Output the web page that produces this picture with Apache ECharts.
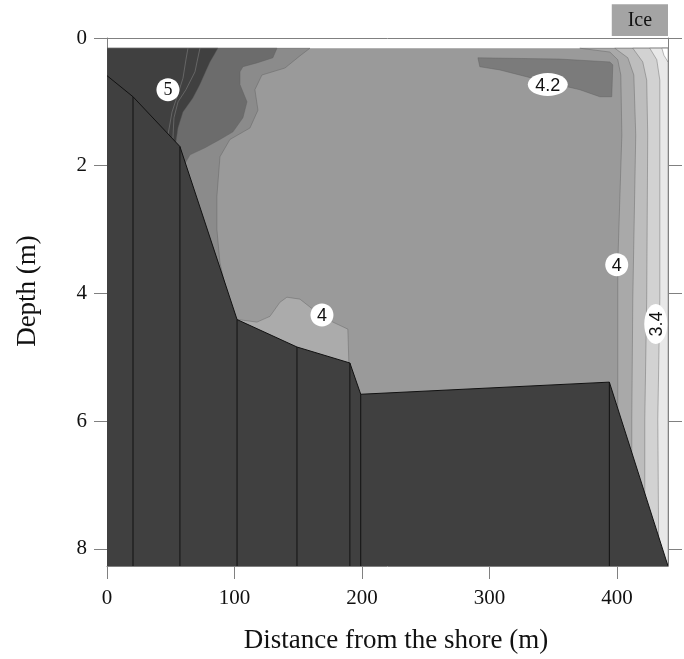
<!DOCTYPE html>
<html><head><meta charset="utf-8">
<script src="https://cdn.jsdelivr.net/npm/echarts@6/dist/echarts.min.js"></script>
<style>html,body{margin:0;padding:0;background:#fff}#c{width:684px;height:659px}</style>
</head><body><div id="c"></div>
<script>
// ---- data (distance from shore in m, depth in m) ----
var xTicks = [0, 100, 200, 300, 400];
var yTicks = [0, 2, 4, 6, 8];
var xMax = 440, yMax = 8.27, iceDepth = 0.16;

var waterArea = [[0,0.16],[440,0.16],[440,8.27],[0,8.27]];
// left warm bands
var bandL3 = [[0,0.16],[159.2,0.16],[151.3,0.28],[139.6,0.47],[121.5,0.58],[116.0,0.81],[118.4,1.13],[112.1,1.41],[96.4,1.59],[88.6,1.86],[86.2,2.48],[86.2,3.0],[88.6,3.52],[92.5,3.86],[98.0,4.25],[102.7,4.6],[0,4.6]];
var bandM2 = [[0,0.16],[133.3,0.16],[130.1,0.31],[117.6,0.39],[106.6,0.45],[104.3,0.53],[104.3,0.73],[109.8,1.0],[106.6,1.25],[98.8,1.47],[88.6,1.59],[76.8,1.72],[65.1,1.83],[57.2,2.1],[0,2.1]];
var bandD1 = [[0,0.16],[87.0,0.16],[83.9,0.27],[80.8,0.375],[76.9,0.55],[72.9,0.73],[67.4,0.94],[59.6,1.16],[55.7,1.41],[54.1,1.63],[50,2.0],[0,2.0]];
var contour5a = [[63.5,0.16],[61.9,0.34],[59.6,0.63],[54.1,0.97],[51.0,1.16],[47.8,1.52]];
var contour5b = [[72.9,0.16],[70.6,0.375],[69.0,0.53],[61.9,0.81],[55.7,1.0],[52.5,1.25],[51.7,1.58]];
// 4.2 warm patch
var patch42 = [[290.9,0.31],[355.2,0.33],[394.4,0.375],[396.7,0.42],[395.9,0.92],[386.5,0.92],[370.8,0.81],[347.3,0.70],[308.1,0.5],[292.4,0.45]];
// cold patch near the bottom (< 4)
var patch4 = [[102.7,4.41],[117.6,4.45],[127.8,4.36],[135.6,4.14],[141.1,4.06],[151.3,4.09],[161.5,4.25],[177.2,4.45],[188.9,4.56],[190,5.3],[149,5.1],[102,4.6]];
// right cold bands near the far shore
var bandR1 = [[370.8,0.16],[394.4,0.22],[400.6,0.34],[403,0.58],[403.8,1.52],[402.2,2.53],[400.6,3.55],[400.6,4.56],[400.6,8.27],[440,8.27],[440,0.16]];
var bandR2 = [[398.3,0.16],[408.5,0.31],[413.2,0.58],[414.7,1.52],[412.4,4.09],[411.6,5.97],[411.6,8.27],[440,8.27],[440,0.16]];
var bandR3 = [[412.4,0.16],[420.2,0.375],[423.3,0.66],[424.1,1.52],[423.3,4.09],[421.8,5.97],[421.8,8.27],[440,8.27],[440,0.16]];
var bandR4 = [[425.7,0.16],[431.2,0.34],[433.6,0.66],[433.6,1.52],[433.6,4.09],[432,5.97],[432.8,8.27],[440,8.27],[440,0.16]];
var bandR5 = [[435.2,0.16],[436.8,0.27],[440,0.375],[440,0.16]];
// lake bottom profile
var bottomProfile = [[0,0.59],[20.4,0.92],[57.2,1.70],[102,4.41],[149,4.84],[190.5,5.09],[199,5.58],[394,5.39],[440,8.27]];
var stationX = [20.4, 57.2, 102, 149, 190.5, 199, 394];
var stationTop = [0.92, 1.70, 4.41, 4.84, 5.09, 5.58, 5.39];
// contour labels: [distance, depth, text]
var labels = [[47.8,0.81,'5'],[345.7,0.73,'4.2'],[399.8,3.55,'4'],[168.6,4.34,'4'],[430.4,4.48,'3.4']];
var iceBox = [[395.9,-0.53],[440,-0.03]];

// ---- chart ----
var chart = echarts.init(document.getElementById('c'), null, {renderer:'canvas'});
var serif = '"Liberation Serif","Times New Roman",serif';
var sans = '"Liberation Sans",Arial,sans-serif';

function polySeries(pts, fill, stroke, lw) {
  return {
    type:'custom', silent:true, clip:true, data:[pts[0]],
    renderItem:function(p, api){
      return {type:'polygon', shape:{points:pts.map(function(q){return api.coord(q);})},
        style:{fill:fill, stroke:stroke||null, lineWidth:lw||0}};
    }
  };
}
function lineSeries(pts, color, lw) {
  return {
    type:'custom', silent:true, clip:true, data:[pts[0]],
    renderItem:function(p, api){
      return {type:'polyline', shape:{points:pts.map(function(q){return api.coord(q);})},
        style:{fill:null, stroke:color, lineWidth:lw}};
    }
  };
}

var cl = 'rgba(95,95,95,0.7)';
var series = [
  polySeries(waterArea, '#9a9a9a'),
  polySeries(bandL3, '#8b8b8b', cl, 0.6),
  polySeries(bandM2, '#6c6c6c', cl, 0.6),
  polySeries(bandD1, '#404040', cl, 0.6),
  lineSeries(contour5a, '#6f6f6f', 0.8),
  lineSeries(contour5b, '#6f6f6f', 0.8),
  polySeries(patch42, '#7b7b7b', cl, 0.6),
  polySeries(patch4, '#ababab', cl, 0.6),
  polySeries(bandR1, '#a9a9a9', cl, 0.6),
  polySeries(bandR2, '#bdbdbd', cl, 0.6),
  polySeries(bandR3, '#d2d2d2', cl, 0.6),
  polySeries(bandR4, '#e8e8e8', cl, 0.6),
  polySeries(bandR5, '#ffffff', cl, 0.6),
  {
    type:'custom', silent:true, clip:true, data:[bottomProfile[0]],
    renderItem:function(p, api){
      var pts = bottomProfile.map(function(q){return api.coord(q);});
      var poly = pts.concat([api.coord([xMax,yMax]), api.coord([0,yMax])]);
      var ch = [{type:'polygon', shape:{points:poly}, style:{fill:'#404040'}},
                {type:'polyline', shape:{points:pts}, style:{fill:null, stroke:'#111', lineWidth:1}}];
      for (var i=0;i<stationX.length;i++){
        var a = api.coord([stationX[i], stationTop[i]]), b = api.coord([stationX[i], yMax]);
        ch.push({type:'line', shape:{x1:a[0],y1:a[1],x2:b[0],y2:b[1]}, style:{stroke:'#111', lineWidth:1}});
      }
      return {type:'group', children:ch};
    }
  },
  {
    type:'custom', silent:true, clip:false, data:labels,
    renderItem:function(p, api){
      var L = labels[p.dataIndex];
      var c = api.coord([L[0], L[1]]);
      var txt = L[2];
      var rot = txt === '3.4';
      var rx = txt.length > 1 ? 20 : 11.5, ry = 11.5;
      return {type:'group', x:c[0], y:c[1], rotation: rot ? Math.PI/2 : 0, children:[
        {type:'ellipse', shape:{cx:0, cy:0, rx:rx, ry:ry}, style:{fill:'#fff'}},
        {type:'text', style:{text:txt, x:0, y:1, align:'center', verticalAlign:'middle',
          font:'18px ' + (txt==='5'?serif:sans), fill:'#111'}}
      ]};
    }
  },
  {
    type:'custom', silent:true, clip:false, data:[iceBox[0]],
    renderItem:function(p, api){
      var a = api.coord(iceBox[0]), b = api.coord(iceBox[1]);
      return {type:'group', children:[
        {type:'rect', shape:{x:a[0], y:a[1], width:b[0]-a[0], height:b[1]-a[1]}, style:{fill:'#a4a4a4'}},
        {type:'text', style:{text:'Ice', x:(a[0]+b[0])/2, y:(a[1]+b[1])/2+1, align:'center', verticalAlign:'middle', font:'20px '+serif, fill:'#111'}}
      ]};
    }
  }
];

var axisLineStyle = {color:'#808080', width:1};
chart.setOption({
  animation:false,
  backgroundColor:'#fff',
  grid:{left:107, right:16, top:38, bottom:92},
  xAxis:[{
    type:'value', min:0, max:xMax, position:'bottom',
    name:'Distance from the shore (m)', nameLocation:'middle', nameGap:61,
    nameTextStyle:{fontFamily:serif, fontSize:27, color:'#111', padding:[0,0,0,17]},
    axisLine:{show:true, onZero:false, lineStyle:axisLineStyle},
    axisTick:{show:true, inside:false, length:13, lineStyle:axisLineStyle, customValues:xTicks},
    axisLabel:{fontFamily:serif, fontSize:21, color:'#111', margin:22, customValues:xTicks},
    splitLine:{show:false}
  },{
    type:'value', min:0, max:xMax, position:'top',
    axisLine:{show:true, onZero:false, lineStyle:axisLineStyle},
    axisTick:{show:false}, axisLabel:{show:false}, splitLine:{show:false}
  }],
  yAxis:[{
    type:'value', min:0, max:yMax, inverse:true, position:'left',
    name:'Depth (m)', nameLocation:'middle', nameGap:66, nameRotate:90,
    nameTextStyle:{fontFamily:serif, fontSize:27, color:'#111', padding:[0,0,0,22]},
    axisLine:{show:true, onZero:false, lineStyle:axisLineStyle},
    axisTick:{show:true, inside:false, length:13, lineStyle:axisLineStyle, customValues:yTicks},
    axisLabel:{fontFamily:serif, fontSize:21, color:'#111', margin:20, customValues:yTicks},
    splitLine:{show:false}
  },{
    type:'value', min:0, max:yMax, inverse:true, position:'right',
    axisLine:{show:true, onZero:false, lineStyle:axisLineStyle},
    axisTick:{show:true, inside:false, length:14, lineStyle:axisLineStyle, customValues:yTicks},
    axisLabel:{show:false}, splitLine:{show:false}
  }],
  series:series
});
</script></body></html>
